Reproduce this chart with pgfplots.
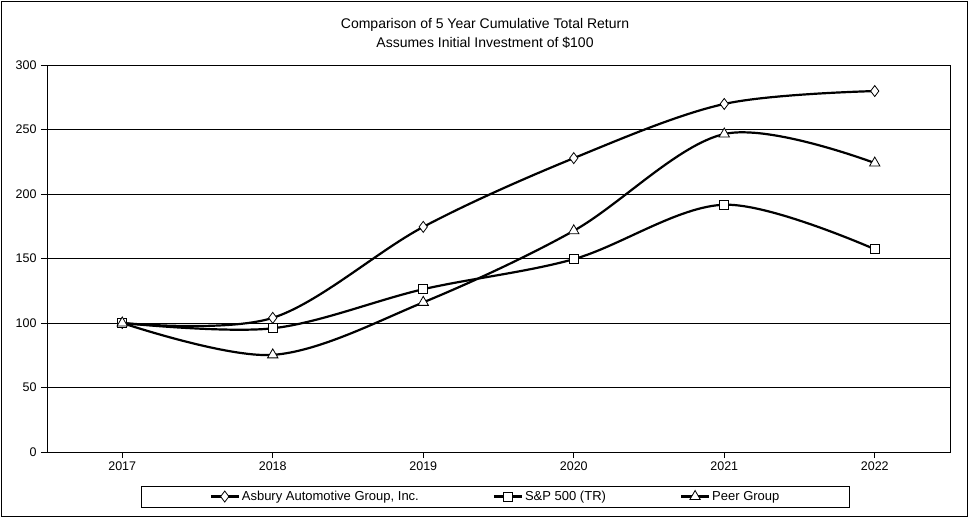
\documentclass[border=0pt]{standalone}
\usepackage{pgfplots}
\pgfplotsset{compat=1.18}
\usepackage{fontspec}
\setmainfont{Liberation Sans}
\begin{document}
\begin{tikzpicture}[x=1pt,y=1pt]
\useasboundingbox (0,0) rectangle (973,-523);
\draw[line width=1pt] (1.5,-1.5) rectangle (967.5,-516.5);
\node[font=\fontsize{14}{19}\selectfont, align=center] at (485,-33) {Comparison of 5 Year Cumulative Total Return\\Assumes Initial Investment of \$100};
\begin{axis}[
  at={(47pt,-452pt)}, anchor=south west,
  scale only axis, width=903pt, height=387pt,
  xmin=-0.5, xmax=5.5, ymin=0, ymax=300,
  xtick={0,...,5}, xticklabels={2017,2018,2019,2020,2021,2022},
  ytick={0,50,...,300},
  ymajorgrids, grid style={black, line width=0.8pt},
  tick align=outside, major tick length=6pt, tick pos=left,
  tick style={black, line width=0.8pt},
  axis line style={line width=0.8pt},
  ticklabel style={font=\fontsize{12.5}{14}\selectfont},
  yticklabel style={xshift=-1pt},
  /pgf/number format/assume math mode=true,
  legend style={at={(0.4967,-0.115)}, anchor=center, draw=black, line width=0.8pt,
    font=\fontsize{13}{15}\selectfont, inner xsep=68pt, inner ysep=3pt,
    /tikz/every even column/.append style={column sep=72pt}},
  legend columns=-1,
  legend image code/.code={\draw[mark repeat=2,mark phase=2,#1] plot coordinates {(0pt,0pt) (14pt,0pt) (28pt,0pt)};},
  every axis plot/.append style={black, line width=2.2pt, smooth, tension=0.55,
    mark options={solid, fill=white, line width=0.8pt}},
]
\addplot[mark=diamond*, mark size=5.5pt] coordinates {(0,100) (1,104) (2,174.5) (3,227.8) (4,269.8) (5,279.8)};
\addlegendentry{Asbury Automotive Group, Inc.}
\addplot[mark=square*, mark size=4.5pt] coordinates {(0,100) (1,95.9) (2,126.2) (3,149.5) (4,191.7) (5,157.2)};
\addlegendentry{S\&P 500 (TR)}
\addplot[mark=triangle*, mark size=6pt] coordinates {(0,100) (1,75.3) (2,116) (3,171.5) (4,246.5) (5,224)};
\addlegendentry{Peer Group}
\end{axis}
\end{tikzpicture}
\end{document}
